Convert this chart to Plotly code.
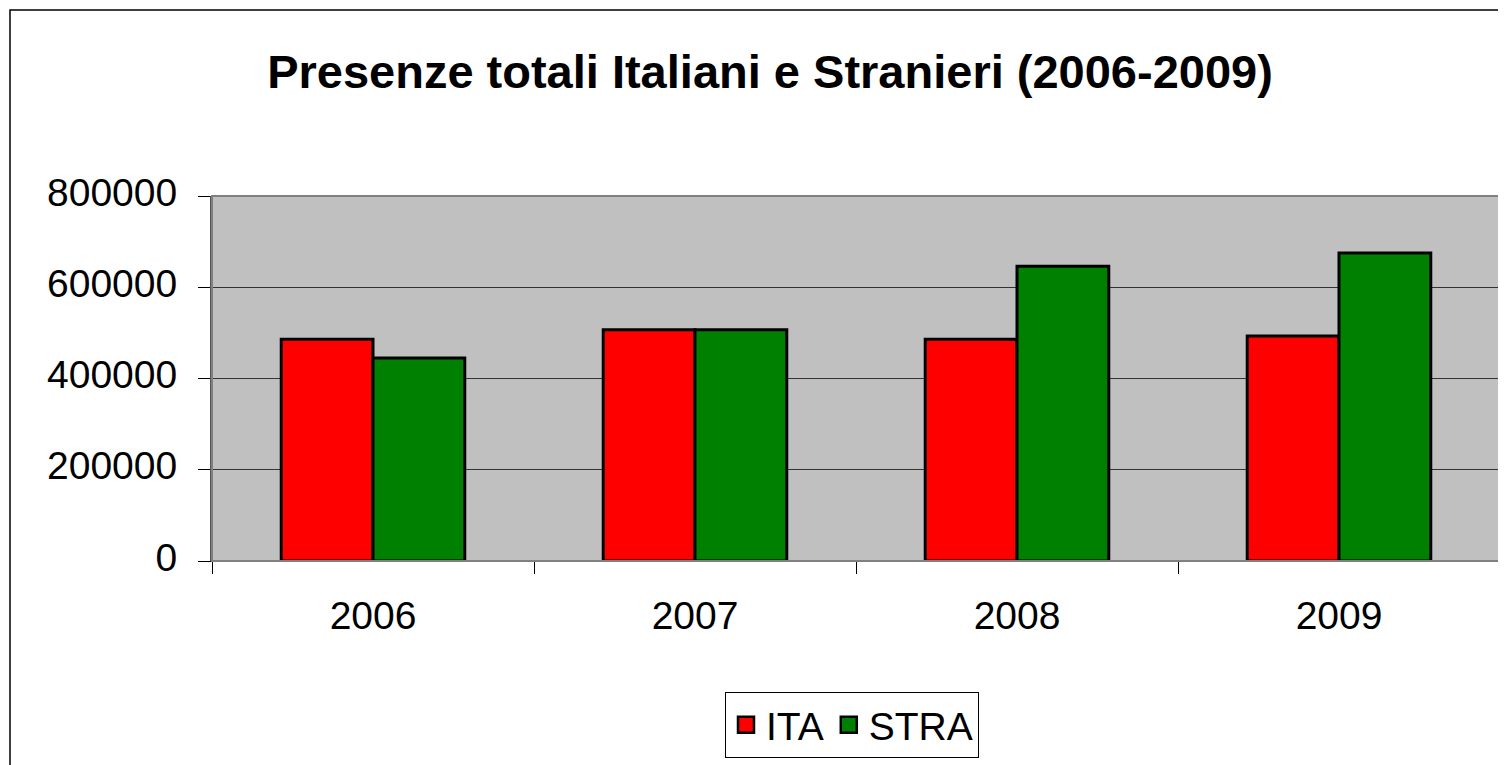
import plotly.graph_objects as go

years = ["2006", "2007", "2008", "2009"]
ita = [486000, 507000, 486000, 493000]
stra = [445000, 507000, 646000, 675000]
series_names = ["ITA", "STRA"]
series_colors = ["#FF0000", "#008000"]
title_text = "Presenze totali Italiani e Stranieri (2006-2009)"

W, H = 1506, 765
L, R, T, B = 204, 14, 188, 212
pw = W - L - R
ph = H - T - B

font_family = "Arial, Liberation Sans, sans-serif"

fig = go.Figure()
for vals, name, col in zip([ita, stra], series_names, series_colors):
    fig.add_trace(go.Bar(x=years, y=vals, name=name, legendgroup=name, showlegend=False,
                         marker=dict(color=col, line=dict(color="#000000", width=3))))
# legend entries (square swatches)
for name, col in zip(series_names, series_colors):
    fig.add_trace(go.Scatter(x=[None], y=[None], mode="markers", name=name, legendgroup=name,
                             marker=dict(symbol="square", size=16, color=col,
                                         line=dict(color="black", width=2.5))))

def px_x(x):
    return (x - L) / pw

def px_y(y):
    return (H - B - y) / ph

fig.update_layout(
    width=W, height=H,
    margin=dict(l=L, r=R, t=T, b=B, autoexpand=False),
    paper_bgcolor="white",
    plot_bgcolor="#C0C0C0",
    barmode="group",
    bargap=0.43,
    bargroupgap=0,
    font=dict(family=font_family, color="black"),
    title=dict(text="<b>" + title_text + "</b>", x=762 / W, xanchor="center",
               y=1 - 64 / H, yanchor="middle", yref="container",
               font=dict(size=47, family=font_family, color="black")),
    legend=dict(orientation="h", x=px_x(844), y=px_y(717), xanchor="center", yanchor="middle",
                bordercolor="black", borderwidth=1, bgcolor="white",
                font=dict(size=39, family=font_family, color="black"),
                itemsizing="trace", traceorder="normal"),
    showlegend=True,
)

fig.update_xaxes(
    type="category", tickson="boundaries", ticks="outside", ticklen=12,
    tickcolor="black", tickwidth=1,
    showline=True, linecolor="black", linewidth=1,
    showgrid=False,
    tickfont=dict(size=39, family=font_family, color="black"),
    ticklabelstandoff=20,
)
fig.update_yaxes(
    range=[0, 800000], dtick=200000, tickformat="d",
    ticks="outside", ticklen=12, tickcolor="black",
    showline=True, linecolor="#555555", linewidth=2,
    showgrid=True, gridcolor="#333333", gridwidth=1,
    zeroline=False,
    tickfont=dict(size=39, family=font_family, color="black"),
    ticklabelstandoff=13, ticklabelshift=-4,
)

# plot-area frame (top/right in grey)
fig.add_shape(type="rect", xref="paper", yref="paper", x0=0, y0=0, x1=1, y1=1,
              line=dict(color="#808080", width=2), fillcolor="rgba(0,0,0,0)", layer="above")
# outer chart border
fig.add_shape(type="rect", xref="paper", yref="paper",
              x0=px_x(2), y0=px_y(790), x1=px_x(1530), y1=px_y(2),
              line=dict(color="black", width=1.5), fillcolor="rgba(0,0,0,0)", layer="below")

fig.write_html("out.html")
